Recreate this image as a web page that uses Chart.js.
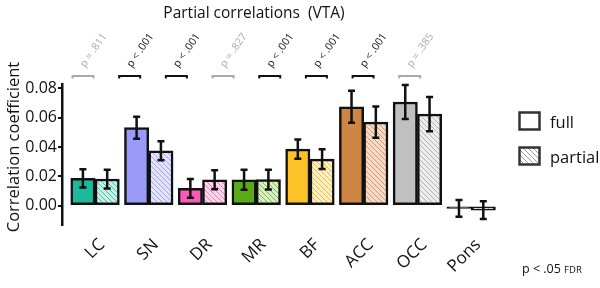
<!DOCTYPE html>
<html><head><meta charset="utf-8">
<script src="https://cdn.jsdelivr.net/npm/chart.js@4"></script>
<style>html,body{margin:0;padding:0;background:#fff}</style>
</head><body>
<canvas id="c" width="600" height="288"></canvas>
<script>
const categories = ['LC','SN','DR','MR','BF','ACC','OCC','Pons'];
const fullValues    = [0.0187, 0.0532, 0.0119, 0.0177, 0.0386, 0.0675, 0.0707, -0.0018];
const fullErrors    = [0.0062, 0.0075, 0.0064, 0.0068, 0.0066, 0.0109, 0.0116, 0.0057];
const partialValues = [0.0182, 0.0375, 0.0177, 0.0178, 0.0318, 0.0570, 0.0625, -0.0030];
const partialErrors = [0.0064, 0.0065, 0.0065, 0.0068, 0.0067, 0.0106, 0.0117, 0.0060];
const pLabels = ['p = .811','p < .001','p < .001','p = .827','p < .001','p < .001','p < .001','p = .385'];
const significant = [false, true, true, false, true, true, true, false];
const yTicks = [0, 0.02, 0.04, 0.06, 0.08];

const fullColors   = ['#1db99b','#9a9af8','#f75cb8','#5bab17','#fec229','#d08643','#c0c0c0','#3a3a3a'];
const partialFills = ['#c8efe5','#e2e2fb','#fcd8eb','#d9edc6','#feefc3','#f6dcc8','#ededed','#d9dee8'];
const partialLines = ['#43c2aa','#a5a5f2','#f07cc0','#7fbb4c','#e9bd4e','#d49a6c','#b4b4b4','#9aa2b4'];

const FONT = '"Open Sans", "Noto Sans", sans-serif';

function hatch(bg, line) {
  const c = document.createElement('canvas');
  c.width = 5; c.height = 5;
  const x = c.getContext('2d');
  x.fillStyle = bg; x.fillRect(0, 0, 5, 5);
  x.strokeStyle = line; x.lineWidth = 1;
  x.beginPath();
  x.moveTo(-1, -1); x.lineTo(6, 6);
  x.moveTo(-1, 4); x.lineTo(1, 6);
  x.moveTo(4, -1); x.lineTo(6, 1);
  x.stroke();
  return x.createPattern(c, 'repeat');
}

const partialPatterns = partialFills.map((f, i) => hatch(f, partialLines[i]));

const decor = {
  id: 'decor',
  afterDatasetsDraw(chart) {
    const ctx = chart.ctx;
    const y = chart.scales.y;
    const x2 = chart.scales.x2;
    ctx.save();
    const errs = [fullErrors, partialErrors];
    const vals = [fullValues, partialValues];
    ctx.strokeStyle = '#111';
    ctx.lineWidth = 2.5;
    [0, 1].forEach(d => {
      chart.getDatasetMeta(d).data.forEach((bar, i) => {
        const top = y.getPixelForValue(vals[d][i] + errs[d][i]);
        const bot = y.getPixelForValue(vals[d][i] - errs[d][i]);
        ctx.beginPath();
        ctx.moveTo(bar.x, top); ctx.lineTo(bar.x, bot);
        ctx.moveTo(bar.x - 3.5, top); ctx.lineTo(bar.x + 3.5, top);
        ctx.moveTo(bar.x - 3.5, bot); ctx.lineTo(bar.x + 3.5, bot);
        ctx.stroke();
      });
    });
    const by = y.getPixelForValue(0.0885);
    categories.forEach((c, i) => {
      const cx = x2.getPixelForValue(i);
      const col = significant[i] ? '#111' : '#aaaaaa';
      ctx.strokeStyle = col;
      ctx.lineWidth = 2;
      ctx.beginPath();
      ctx.moveTo(cx - 10.5, by + 2.5); ctx.lineTo(cx - 10.5, by);
      ctx.lineTo(cx + 10.5, by); ctx.lineTo(cx + 10.5, by + 2.5);
      ctx.stroke();
      ctx.save();
      ctx.translate(cx + 2, by - 8);
      ctx.rotate(-55 * Math.PI / 180);
      ctx.fillStyle = col;
      ctx.font = '10.5px ' + FONT;
      ctx.textAlign = 'left';
      ctx.textBaseline = 'alphabetic';
      ctx.fillText(pLabels[i], 0, 0);
      ctx.restore();
    });
    ctx.restore();
  },
  afterDraw(chart) {
    const ctx = chart.ctx;
    ctx.save();
    ctx.fillStyle = '#111';
    ctx.font = '15.5px ' + FONT;
    ctx.textAlign = 'center';
    ctx.textBaseline = 'alphabetic';
    ctx.fillText('Partial correlations  (VTA)', 254, 17.5);
    ctx.save();
    ctx.translate(18.5, 147);
    ctx.rotate(-Math.PI / 2);
    ctx.font = '16.5px ' + FONT;
    ctx.fillText('Correlation coefficient', 0, 0);
    ctx.restore();
    ctx.lineWidth = 2.5;
    ctx.strokeStyle = '#333';
    ctx.fillStyle = '#fff';
    ctx.fillRect(519.5, 112.5, 20, 17);
    ctx.strokeRect(519.5, 112.5, 20, 17);
    ctx.fillStyle = hatch('#ffffff', '#9a9a9a');
    ctx.fillRect(519.5, 147.5, 20, 17);
    ctx.strokeRect(519.5, 147.5, 20, 17);
    ctx.fillStyle = '#111';
    ctx.font = '16.5px ' + FONT;
    ctx.textAlign = 'left';
    ctx.fillText('full', 550, 128);
    ctx.fillText('partial', 550, 163);
    ctx.font = '12.5px ' + FONT;
    ctx.fillText('p < .05', 522, 273);
    const w = ctx.measureText('p < .05 ').width;
    ctx.font = '9.5px ' + FONT;
    ctx.fillText('FDR', 522 + w, 273);
    ctx.restore();
  }
};

new Chart(document.getElementById('c'), {
  type: 'bar',
  data: {
    datasets: [
      {
        label: 'full',
        data: categories.map((c, i) => ({ x: i, y: fullValues[i] })),
        backgroundColor: fullColors,
        borderColor: '#111',
        borderWidth: 2.5,
        borderSkipped: false,
        barThickness: 24.3
      },
      {
        label: 'partial',
        data: categories.map((c, i) => ({ x: i, y: partialValues[i] })),
        backgroundColor: partialPatterns,
        borderColor: '#111',
        borderWidth: 2.5,
        borderSkipped: false,
        barThickness: 24.3
      }
    ]
  },
  options: {
    responsive: false,
    animation: false,
    devicePixelRatio: 1,
    layout: { padding: { top: 84.7, right: 102, bottom: 0, left: 0 } },
    plugins: { legend: { display: false }, tooltip: { enabled: false }, title: { display: false } },
    scales: {
      x: {
        type: 'linear',
        offset: false,
        min: -0.615,
        max: 7.5,
        grid: { display: false, offset: false },
        border: { display: false },
        afterBuildTicks: s => { s.ticks = categories.map((c, i) => ({ value: i })); },
        afterFit: s => { s.height = 63.2; },
        ticks: {
          autoSkip: false,
          minRotation: 45,
          maxRotation: 45,
          padding: 2,
          labelOffset: 7,
          color: '#111',
          font: { family: FONT, size: 17 },
          callback: v => categories[v] ?? ''
        }
      },
      x2: {
        type: 'linear',
        display: false,
        offset: false,
        min: -0.45,
        max: 8.89
      },
      y: {
        min: -0.013,
        max: 0.0825,
        afterBuildTicks: s => { s.ticks = yTicks.map(v => ({ value: v })); },
        afterFit: s => { s.width = 62; },
        grid: { drawOnChartArea: false, drawTicks: true, tickLength: 4, color: '#111', lineWidth: 2 },
        border: { display: true, color: '#111', width: 2.5 },
        ticks: {
          padding: 1,
          color: '#111',
          font: { family: FONT, size: 16 },
          callback: v => v.toFixed(2)
        }
      }
    }
  },
  plugins: [decor]
});
</script>
</body></html>
